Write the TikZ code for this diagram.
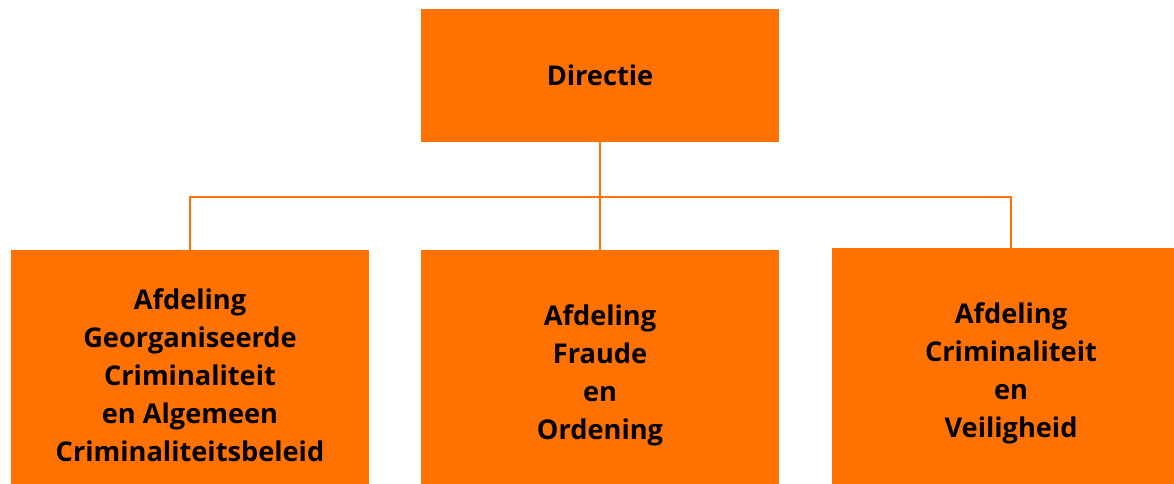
\documentclass[tikz,border=0pt]{standalone}
\usepackage{fontspec}
\setmainfont{Open Sans}
\definecolor{orgorange}{HTML}{FF7100}
\begin{document}
\begin{tikzpicture}[x=1pt,y=-1pt,
  unit/.style={fill=orgorange, draw=none, inner sep=0pt, align=center,
    font=\fontsize{27.2}{38}\selectfont\bfseries, text=black},
  link/.style={draw=orgorange, line width=2pt}]
  \useasboundingbox (0,0) rectangle (1174,484);
  % top level
  \node[unit, minimum width=358pt, minimum height=133pt] (dir) at (600,75.5)
    {\raisebox{-3pt}{Directie}};
  % departments (boxes run on past the lower edge)
  \node[unit, minimum width=358pt, minimum height=250pt] (goc) at (190,375)
    {Afdeling\\Georganiseerde\\Criminaliteit\\en Algemeen\\Criminaliteitsbeleid};
  \node[unit, minimum width=358pt, minimum height=250pt] (fo) at (600,375)
    {Afdeling\\Fraude\\en\\Ordening};
  \node[unit, minimum width=358pt, minimum height=250pt] (cv) at (1011,373)
    {Afdeling\\Criminaliteit\\en\\Veiligheid};
  % connectors
  \coordinate (bus) at (600,197);
  \draw[link] (dir.south) -- (fo.north);
  \draw[link] (goc.north) |- (bus) -| (cv.north);
\end{tikzpicture}
\end{document}
